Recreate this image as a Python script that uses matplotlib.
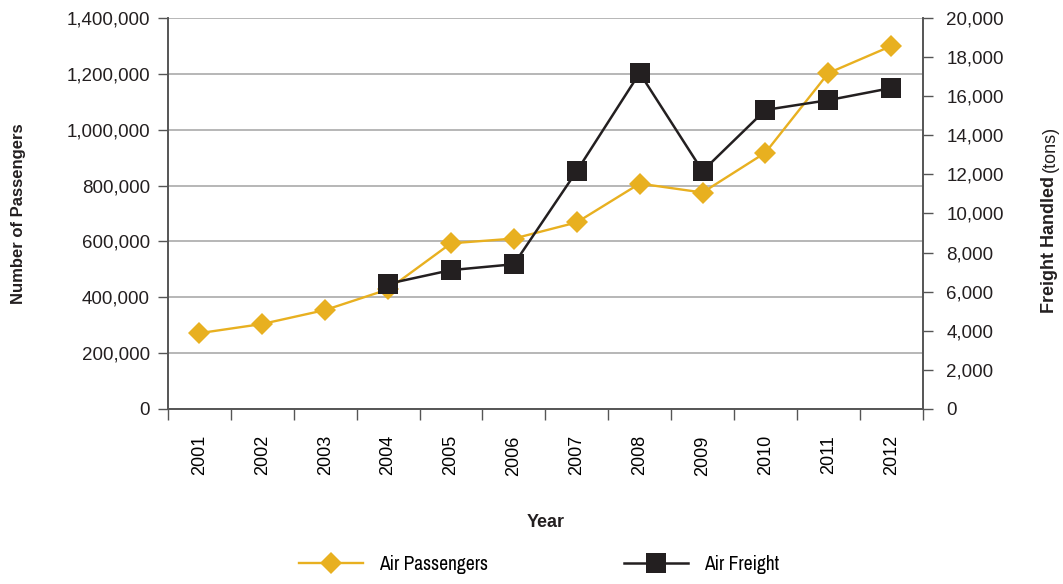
import matplotlib.pyplot as plt
from matplotlib import font_manager
from matplotlib.ticker import FuncFormatter, FixedLocator

years = ['2001', '2002', '2003', '2004', '2005', '2006',
         '2007', '2008', '2009', '2010', '2011', '2012']
passengers = [271000, 304000, 354000, 428000, 593000, 610000,
              668000, 807000, 775000, 918000, 1203000, 1300000]
freight_years = ['2004', '2005', '2006', '2007', '2008', '2009',
                 '2010', '2011', '2012']
freight = [6400, 7100, 7400, 12170, 17190, 12170, 15300, 15800, 16420]

yellow = '#E8B020'
black = '#231F20'

# a condensed face for the legend if one is installed
ttf = font_manager.fontManager.ttflist
cond_all = sorted({f.name for f in ttf
                   if 'Narrow' in f.name or 'Condensed' in f.name
                   or f.stretch in ('condensed', 'semi-condensed', 'extra-condensed', 575)})
cond = (cond_all[:1] or ['Liberation Sans']) + ['DejaVu Sans']
sans = ['Liberation Sans', 'DejaVu Sans']

fig = plt.figure(figsize=(10.63, 5.84), dpi=100)
ax = fig.add_axes([0.158, 0.300, 0.710, 0.669])
ax2 = ax.twinx()

x = list(range(len(years)))
fx = [years.index(y) for y in freight_years]

l1, = ax.plot(x, passengers, color=yellow, lw=1.7, marker='D', markersize=11,
              markeredgewidth=0, label='Air Passengers', zorder=3)
l2, = ax2.plot(fx, freight, color=black, lw=1.8, marker='s', markersize=15,
               markeredgewidth=0, label='Air Freight', zorder=3)

ax.set_xlim(-0.5, len(years) - 0.5)
ax.set_ylim(0, 1400000)
ax2.set_ylim(0, 20000)
ax.set_yticks(range(0, 1400001, 200000))
ax2.set_yticks(range(0, 20001, 2000))
ax.yaxis.set_major_formatter(FuncFormatter(lambda v, p: f'{int(v):,}'))
ax2.yaxis.set_major_formatter(FuncFormatter(lambda v, p: f'{int(v):,}'))

ax.set_xticks(x)
ax.set_xticklabels(years, rotation=90, fontsize=13, family='Liberation Sans')
ax.tick_params(axis='x', which='major', length=0, pad=19)
ax.xaxis.set_minor_locator(FixedLocator([i - 0.5 for i in range(len(years) + 1)]))
ax.tick_params(axis='x', which='minor', length=8, width=1, color='#555555')

ax.grid(axis='y', color='#aaaaaa', lw=1.2)
ax.set_axisbelow(True)
ax.tick_params(axis='y', length=7, width=1, color='#555555', labelsize=13.5, pad=6)
ax2.tick_params(axis='y', length=7, width=1, color='#555555', labelsize=13.5, pad=10)
for lab in ax.get_yticklabels() + ax2.get_yticklabels():
    lab.set_family(sans)
    lab.set_color(black)

for a in (ax, ax2):
    a.spines['top'].set_visible(False)
    for s in ('left', 'right', 'bottom'):
        a.spines[s].set_color('#555555')
        a.spines[s].set_linewidth(1.2)

ax.set_ylabel('Number of Passengers', fontsize=12, fontweight='bold',
              family=sans, color=black, labelpad=29)
ax.set_xlabel('Year', fontsize=13, fontweight='bold', family=sans,
              color=black, labelpad=28)

# right label: bold part then regular "(tons)"
t1 = fig.text(1050 / 1063, 1 - 313 / 584, 'Freight Handled', rotation=90,
              ha='center', va='bottom', fontsize=13, fontweight='bold',
              family=sans, color=black)
fig.canvas.draw()
bb = t1.get_window_extent()
fig.text(1050 / 1063, (bb.y1 + 4) / fig.bbox.height, '(tons)', rotation=90,
         ha='center', va='bottom', fontsize=13, family=sans, color=black)

fig.legend(handles=[l1, l2], loc='lower center', bbox_to_anchor=(0.507, -0.012),
           ncol=2, frameon=False, handlelength=3.3, columnspacing=7.0,
           prop={'family': cond, 'size': 14, 'stretch': 'condensed'})

fig.savefig('out.png', dpi=100)
